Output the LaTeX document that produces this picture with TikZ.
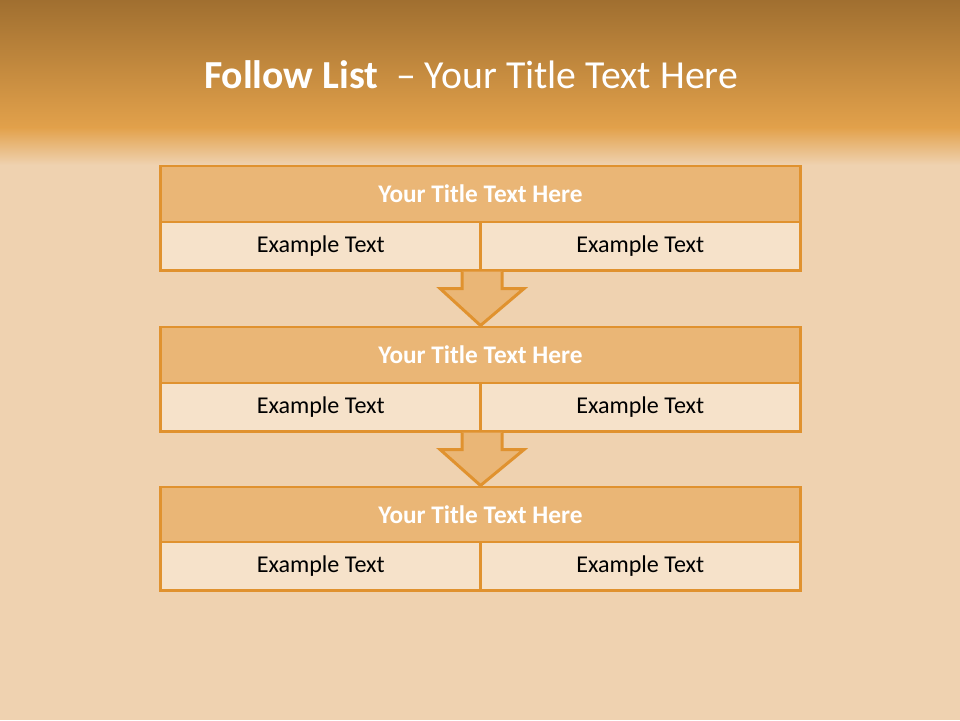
\documentclass[tikz,border=0pt]{standalone}
\usepackage{fontspec}
\setmainfont{Carlito}
\usetikzlibrary{calc}

\definecolor{cork}{HTML}{EFD2B0}
\definecolor{headtop}{HTML}{A06F30}
\definecolor{headbot}{HTML}{E2A14B}
\definecolor{rim}{HTML}{E0922F}
\definecolor{titlefill}{HTML}{EAB676}
\definecolor{cellfill}{HTML}{F6E2CA}

\begin{document}
\begin{tikzpicture}[
	x=0.01cm, y=-0.01cm,
	hd/.style = {rectangle, draw=rim, fill=titlefill, line width=0.85pt, minimum width=6.39cm, minimum height=0.56cm, inner sep=0pt, text=white, font=\fontsize{7.2}{9}\selectfont\bfseries},
	cl/.style = {rectangle, draw=rim, fill=cellfill, line width=0.85pt, minimum width=3.195cm, minimum height=0.48cm, inner sep=0pt, font=\fontsize{6.85}{8}\selectfont},
	dn/.style = {draw=rim, fill=titlefill, line width=0.85pt, line join=miter}
	]

	%Background
	\useasboundingbox (0,0) rectangle (960,720);
	\fill[cork] (0,0) rectangle (960,720);
	\shade[top color=headtop, bottom color=headbot] (0,0) rectangle (960,128);
	\shade[top color=headbot, bottom color=cork] (0,127.5) rectangle (960,165);

	\node[anchor=base, text=white, font=\fontsize{11.3}{13}\selectfont] (title) at (471,88) {\textbf{Follow List}\ \ – Your Title Text Here};

	%Nodes
	\node[hd]	(h1)	at	(480.5, 194)	{Your Title Text Here};
	\node[cl]	(l1)	at	(320.75, 246)	{Example Text};
	\node[cl]	(r1)	at	(640.25, 246)	{Example Text};

	\node[hd]	(h2)	at	(480.5, 355)	{Your Title Text Here};
	\node[cl]	(l2)	at	(320.75, 407)	{Example Text};
	\node[cl]	(r2)	at	(640.25, 407)	{Example Text};

	\node[hd]	(h3)	at	(480.5, 515)	{Your Title Text Here};
	\node[cl]	(l3)	at	(320.75, 566)	{Example Text};
	\node[cl]	(r3)	at	(640.25, 566)	{Example Text};

	%Lines
	\draw[dn]	($(l1.south east)+(-20,0)$) -- ++(0,17) -- ++(-22,0) -- (h2.north) -- ($(l1.south east)+(42,17)$) -- ++(-22,0) -- ++(0,-17);
	\draw[dn]	($(l2.south east)+(-20,0)$) -- ++(0,17) -- ++(-22,0) -- (h3.north) -- ($(l2.south east)+(42,17)$) -- ++(-22,0) -- ++(0,-17);
\end{tikzpicture}
\end{document}
